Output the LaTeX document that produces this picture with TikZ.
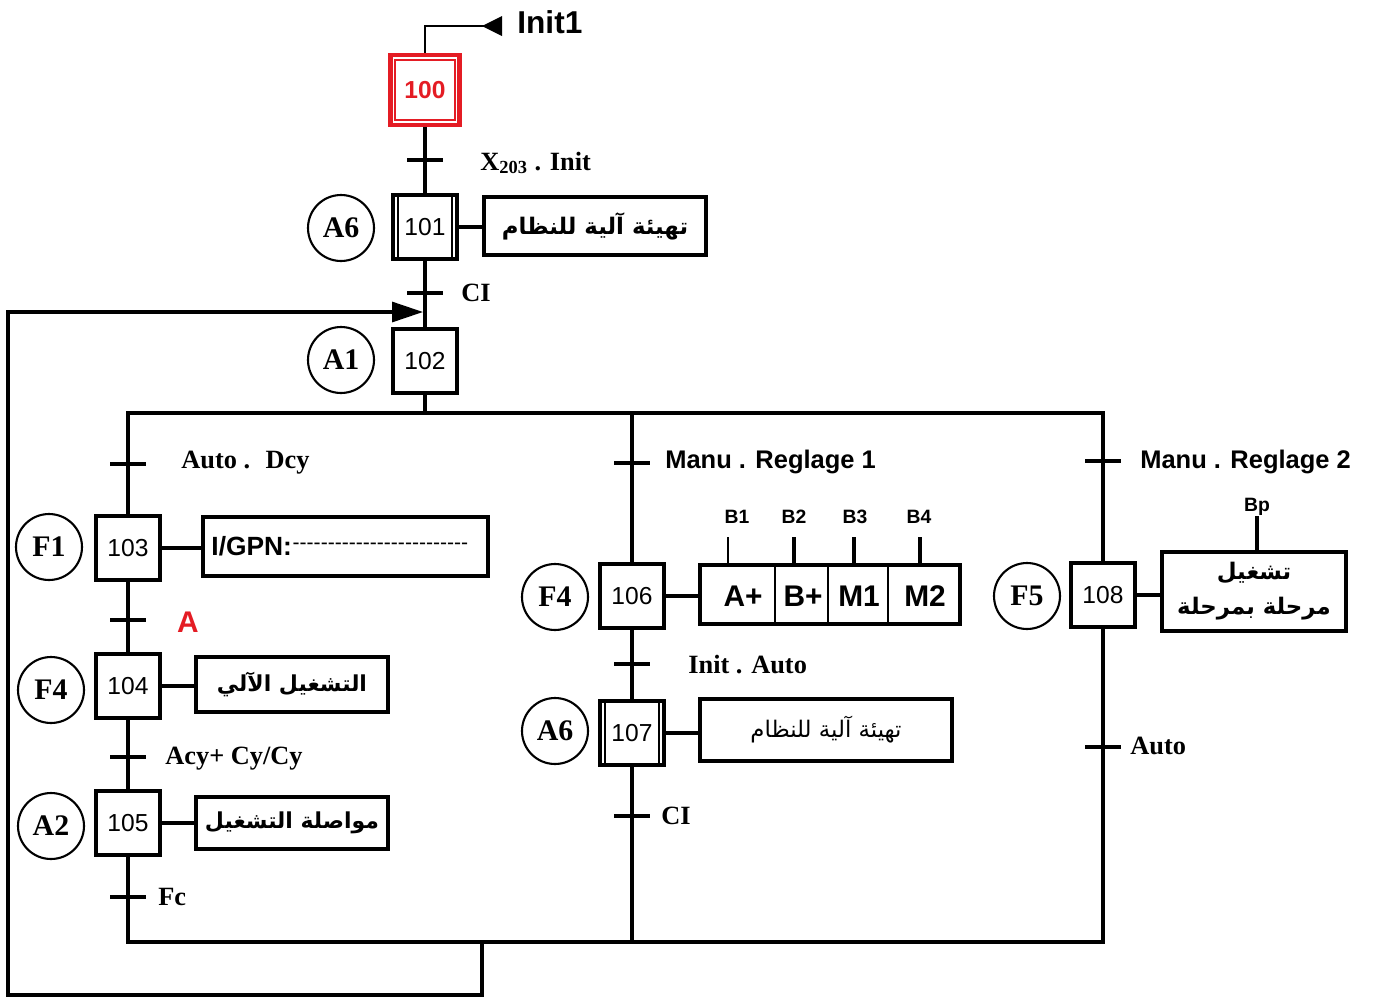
\documentclass[tikz,border=0pt]{standalone}
\usepackage{fontspec}
\setmainfont{Liberation Serif}
\setsansfont{Liberation Sans}
\newfontfamily\arabicfont[Script=Arabic]{DejaVu Sans}
\TeXXeTstate=1
\usetikzlibrary{arrows.meta}
\definecolor{gred}{RGB}{228,28,36}
\newcommand\hyp{\mbox{-}}
\begin{document}
\begin{tikzpicture}[x=0.02cm,y=-0.02cm,
  line/.style={line width=2.2pt},
  thinl/.style={line width=1.1pt},
  stepbox/.style={draw,line width=2.2pt,minimum width=1.28cm,minimum height=1.28cm,inner sep=0pt,font=\sffamily\fontsize{14}{14}\selectfont},
  actbox/.style={draw,line width=2.2pt,inner sep=0pt},
  circ/.style={circle,draw,line width=1.2pt,minimum size=1.32cm,inner sep=0pt,font=\bfseries\fontsize{17}{17}\selectfont},
  lbl/.style={anchor=west,inner sep=0pt,font=\bfseries\fontsize{15}{15}\selectfont},
  slbl/.style={anchor=west,inner sep=0pt,font=\sffamily\bfseries\fontsize{14.5}{14.5}\selectfont},
  ar/.style={font=\arabicfont\bfseries\fontsize{12.5}{12.5}\selectfont},
  small/.style={inner sep=0pt,font=\sffamily\bfseries\fontsize{11}{11}\selectfont}
]
\useasboundingbox (0,0) rectangle (1390,998);

% ---------- step 100 (initial) ----------
\node[draw=gred,line width=2.4pt,minimum width=1.38cm,minimum height=1.40cm,inner sep=0pt,
      text=gred,font=\sffamily\bfseries\fontsize{14}{14}\selectfont] (s100) at (425,90) {100};
\draw[gred,line width=1.2pt] ([shift={(7,7)}]s100.north west) rectangle ([shift={(-7,-7)}]s100.south east);
\coordinate (i1) at (490,26);
\draw[thinl] (s100.north) |- (i1);
\fill (482,26) -- (502,16) -- (502,36) -- cycle;
\node[anchor=west,inner sep=0pt,font=\sffamily\bfseries\fontsize{18}{18}\selectfont] (init1) at (517,22) {Init1};

% ---------- step 101 ----------
\node[stepbox] (s101) at (425,227) {101};
\draw[thinl] ([xshift=0.14cm]s101.north west) -- ([xshift=0.14cm]s101.south west);
\draw[thinl] ([xshift=-0.14cm]s101.north east) -- ([xshift=-0.14cm]s101.south east);
\node[circ] (c101) at (341,228) {A6};
\node[actbox,minimum width=4.44cm,minimum height=1.16cm,ar,font=\arabicfont\bfseries\fontsize{13}{13}\selectfont] (a101) at (595,226) {\beginR تهيئة آلية للنظام\endR};
\draw[line] (s101.east) -- (a101.west |- s101.east);
\draw[line] (s100.south) -- (s101.north);
\draw[line] (407,160) -- (443,160);
\node[lbl] (t1) at (480,163) {X\textsubscript{203} . Init};

% ---------- step 102 ----------
\node[stepbox] (s102) at (425,361) {102};
\node[circ] (c102) at (341,360) {A1};
\draw[line] (s101.south) -- (s102.north);
\draw[line] (407,293) -- (443,293);
\node[lbl] (t2) at (461,293) {CI};

% ---------- branch 1 ----------
\node[stepbox] (s103) at (128,548) {103};
\node[circ] (c103) at (49,547) {F1};
\node[actbox,minimum width=5.7cm,minimum height=1.18cm] (a103) at (345.5,546.5) {};
\node[anchor=west,inner sep=0pt,font=\sffamily\bfseries\fontsize{15}{15}\selectfont] (g1) at ([xshift=0.2cm]a103.west) {I/GPN:};
\node[anchor=west,inner sep=0pt,font=\sffamily\fontsize{12}{12}\selectfont] (g2) at (g1.east) {\hyp\hyp\hyp\hyp\hyp\hyp\hyp\hyp\hyp\hyp\hyp\hyp\hyp\hyp\hyp\hyp\hyp\hyp\hyp\hyp\hyp\hyp\hyp\hyp\hyp};
\draw[line] (s103.east) -- (a103.west |- s103.east);
\draw[line] (110,464) -- (146,464);
\node[lbl] (t3) at (181,463) {Auto .~ Dcy};

\node[stepbox] (s104) at (128,686) {104};
\node[circ] (c104) at (51,690) {F4};
\node[actbox,minimum width=3.84cm,minimum height=1.1cm,ar] (a104) at (292,684.5) {\beginR التشغيل الآلي\endR};
\draw[line] (s104.east) -- (a104.west |- s104.east);
\draw[line] (s103.south) -- (s104.north);
\draw[line] (110,620) -- (146,620);
\node[inner sep=0pt,text=gred,font=\sffamily\bfseries\fontsize{17}{17}\selectfont] (t4) at (188,622) {A};

\node[stepbox] (s105) at (128,823) {105};
\node[circ] (c105) at (51,826) {A2};
\node[actbox,minimum width=3.84cm,minimum height=1.04cm,ar] (a105) at (292,823) {\beginR مواصلة التشغيل\endR};
\draw[line] (s105.east) -- (a105.west |- s105.east);
\draw[line] (s104.south) -- (s105.north);
\draw[line] (110,757) -- (146,757);
\node[lbl] (t5) at (165,759) {Acy+ Cy/Cy};
\draw[line] (110,897) -- (146,897);
\node[lbl] (t6) at (158,897) {Fc};

% ---------- branch 2 ----------
\node[stepbox] (s106) at (632,596) {106};
\node[circ] (c106) at (555,597) {F4};
\node[actbox,minimum width=5.2cm,minimum height=1.18cm] (a106) at (830,594.5) {};
\draw[thinl] (775,565) -- (775,624);
\draw[thinl] (828,565) -- (828,624);
\draw[thinl] (888,565) -- (888,624);
\node[inner sep=0pt,font=\sffamily\bfseries\fontsize{17}{17}\selectfont] (m1) at (743,596) {A+};
\node[inner sep=0pt,font=\sffamily\bfseries\fontsize{17}{17}\selectfont] (m2) at (803,596) {B+};
\node[inner sep=0pt,font=\sffamily\bfseries\fontsize{17}{17}\selectfont] (m3) at (859,596) {M1};
\node[inner sep=0pt,font=\sffamily\bfseries\fontsize{17}{17}\selectfont] (m4) at (925,596) {M2};
\node[small] (b1) at (737,517) {B1};
\node[small] (b2) at (794,517) {B2};
\node[small] (b3) at (855,517) {B3};
\node[small] (b4) at (919,517) {B4};
\coordinate (p1) at (728,537);
\coordinate (p2) at (794,537);
\coordinate (p3) at (854,537);
\coordinate (p4) at (920,537);
\draw[thinl] (p1) -- (p1 |- a106.north);
\draw[line] (p2) -- (p2 |- a106.north);
\draw[line] (p3) -- (p3 |- a106.north);
\draw[line] (p4) -- (p4 |- a106.north);
\draw[line] (s106.east) -- (a106.west |- s106.east);
\draw[line] (614,463) -- (650,463);
\node[slbl] (t7) at (665,462) {Manu . Reglage 1};

\node[stepbox] (s107) at (632,733) {107};
\draw[thinl] ([xshift=0.14cm]s107.north west) -- ([xshift=0.14cm]s107.south west);
\draw[thinl] ([xshift=-0.14cm]s107.north east) -- ([xshift=-0.14cm]s107.south east);
\node[circ] (c107) at (555,731) {A6};
\node[actbox,minimum width=5.04cm,minimum height=1.24cm,font=\arabicfont\fontsize{13}{13}\selectfont] (a107) at (826,730) {\beginR تهيئة آلية للنظام\endR};
\draw[line] (s107.east) -- (a107.west |- s107.east);
\draw[line] (s106.south) -- (s107.north);
\draw[line] (614,664) -- (650,664);
\node[lbl] (t8) at (688,665) {Init . Auto};
\draw[line] (614,816) -- (650,816);
\node[lbl] (t9) at (661,816) {CI};

% ---------- branch 3 ----------
\node[stepbox] (s108) at (1103,595) {108};
\node[circ] (c108) at (1027,596) {F5};
\node[actbox,minimum width=3.68cm,minimum height=1.58cm,align=center,font=\arabicfont\bfseries\fontsize{13}{20}\selectfont] (a108) at (1254,591.5) {\beginR تشغيل\endR\\\beginR مرحلة بمرحلة\endR};
\draw[line] (s108.east) -- (a108.west |- s108.east);
\node[small] (bp) at (1257,507) {Bp};
\draw[line] (bp.south) -- (bp.south |- a108.north);
\draw[line] (1085,461) -- (1121,461);
\node[slbl] (t10) at (1140,462) {Manu . Reglage 2};
\draw[line] (1085,747) -- (1121,747);
\node[lbl] (t11) at (1130,746) {Auto};

% ---------- divergence ----------
\coordinate (dv) at (425,413);
\coordinate (d2) at (632,413);
\coordinate (d3) at (1103,413);
\draw[line] (s102.south) -- (dv);
\draw[line] (s103.north) |- (d3) -- (s108.north);
\draw[line] (d2) -- (s106.north);

% ---------- convergence & loop ----------
\coordinate (c2) at (632,942);
\coordinate (c3) at (1103,942);
\coordinate (cr) at (482,942);
\draw[line] (s105.south) |- (c3) -- (s108.south);
\draw[line] (s107.south) -- (c2);
\coordinate (q1) at (482,995);
\coordinate (q2) at (8,995);
\coordinate (q3) at (8,312);
\coordinate (lp) at (423,312);
\draw[line width=1.8pt,-{Triangle[length=0.62cm,width=0.4cm]}] (cr) -- (q1) -- (q2) -- (q3) -- (lp);
\end{tikzpicture}
\end{document}
